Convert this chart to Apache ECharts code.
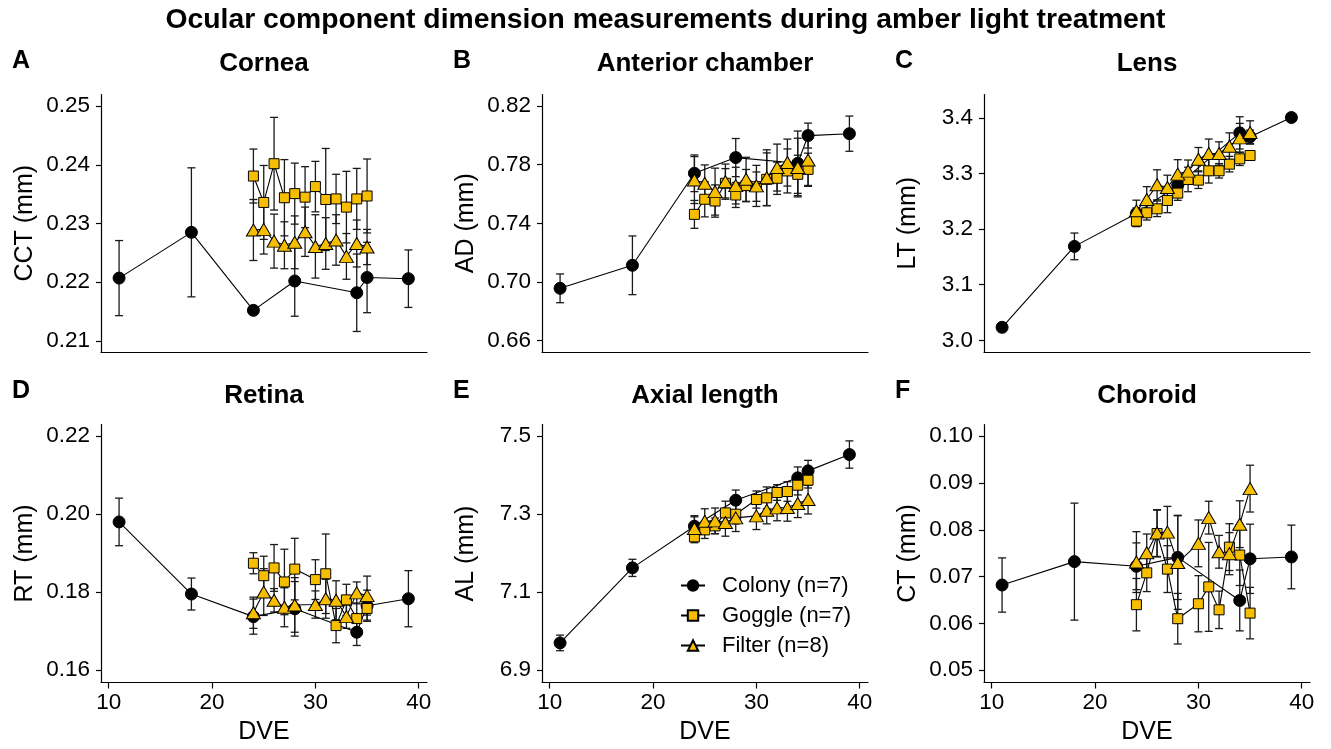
<!DOCTYPE html>
<html>
<head>
<meta charset="utf-8">
<script src="https://cdn.jsdelivr.net/npm/echarts@6/dist/echarts.min.js"></script>
<style>
  html, body { margin: 0; padding: 0; background: #fff; }
  #chart { width: 1331px; height: 749px; }
</style>
</head>
<body>
<div id="chart"></div>
<script>
// days
const colonyDays = [11, 18, 24, 28, 34, 35, 39];
const topDays = [24, 25, 26, 27, 28, 29, 30, 31, 32, 33, 34, 35];
const bottomDays = [24, 25, 26, 27, 28, 30, 31, 32, 33, 34, 35];
const xTicks = [10, 20, 30, 40];

// A cornea
const corneaColony = [0.2207, 0.2285, 0.2152, 0.2202, 0.2182, 0.2208, 0.2206];
const corneaColonySe = [0.0064, 0.011, 0, 0.006, 0.0066, 0.006, 0.0049];
const corneaGoggle = [0.2381, 0.2336, 0.2402, 0.2344, 0.2351, 0.2345, 0.2363, 0.2341, 0.2342, 0.2328, 0.2342, 0.2347];
const corneaGoggleSe = [0.0046, 0.0063, 0.0079, 0.0065, 0.0052, 0.0052, 0.0043, 0.0087, 0.0042, 0.0061, 0.0052, 0.0063];
const corneaFilter = [0.2289, 0.2290, 0.2270, 0.2263, 0.2268, 0.2286, 0.2261, 0.2266, 0.2272, 0.2244, 0.2266, 0.2260];
const corneaFilterSe = [0.0052, 0.0042, 0.0046, 0.0040, 0.0045, 0.0042, 0.0054, 0.0044, 0.0043, 0.0039, 0.0040, 0.0030];
const corneaTicks = [0.21, 0.22, 0.23, 0.24, 0.25];

// B anterior chamber
const adColony = [0.6957, 0.7114, 0.7741, 0.7848, 0.7809, 0.7998, 0.8011];
const adColonySe = [0.0098, 0.020, 0.0125, 0.013, 0.022, 0.0085, 0.012];
const adGoggle = [0.7461, 0.7564, 0.7552, 0.7673, 0.7593, 0.7657, 0.7650, 0.7700, 0.7707, 0.7757, 0.7734, 0.7768];
const adGoggleSe = [0.0095, 0.012, 0.011, 0.010, 0.0085, 0.011, 0.010, 0.018, 0.011, 0.015, 0.013, 0.011];
const adFilter = [0.7695, 0.7673, 0.7616, 0.7684, 0.7657, 0.7700, 0.7655, 0.7711, 0.7780, 0.7814, 0.7780, 0.7832];
const adFilterSe = [0.016, 0.0125, 0.016, 0.012, 0.0125, 0.015, 0.014, 0.019, 0.016, 0.016, 0.02, 0.018];
const adTicks = [0.66, 0.70, 0.74, 0.78, 0.82];

// C lens
const ltColony = [3.0234, 3.1689, 3.228, 3.279, 3.373, 3.366, 3.4006];
const ltColonySe = [0.008, 0.024, 0.01, 0.012, 0.029, 0.012, 0.007];
const ltGoggle = [3.2144, 3.2293, 3.2365, 3.2515, 3.2647, 3.2892, 3.288, 3.3048, 3.3048, 3.3168, 3.3263, 3.3323];
const ltGoggleSe = [0.01, 0.013, 0.014, 0.022, 0.013, 0.022, 0.015, 0.022, 0.013, 0.014, 0.012, 0.006];
const ltFilter = [3.233, 3.2533, 3.2796, 3.2749, 3.2988, 3.3042, 3.3257, 3.3359, 3.3359, 3.349, 3.364, 3.3737];
const ltFilterSe = [0.019, 0.023, 0.027, 0.022, 0.026, 0.02, 0.021, 0.026, 0.021, 0.024, 0.026, 0.021];
const ltTicks = [3.0, 3.1, 3.2, 3.3, 3.4];

// D retina
const rtColony = [0.1980, 0.1795, 0.1737, 0.1757, 0.1697, 0.1765, 0.1783];
const rtColonySe = [0.0061, 0.0041, 0.0045, 0.007, 0.0034, 0.004, 0.0072];
const rtGoggle = [0.1874, 0.1842, 0.1862, 0.1826, 0.1859, 0.1832, 0.1847, 0.1714, 0.1780, 0.1732, 0.1758];
const rtGoggleSe = [0.0027, 0.005, 0.006, 0.0084, 0.0079, 0.0051, 0.0102, 0.0044, 0.004, 0.004, 0.003];
const rtFilter = [0.1747, 0.1800, 0.1779, 0.1761, 0.1767, 0.1768, 0.1783, 0.1779, 0.1737, 0.1798, 0.1791];
const rtFilterSe = [0.004, 0.006, 0.003, 0.005, 0.007, 0.0035, 0.005, 0.005, 0.003, 0.0028, 0.005];
const rtTicks = [0.16, 0.18, 0.20, 0.22];

// E axial length
const alColony = [6.970, 7.1624, 7.2692, 7.3359, 7.3932, 7.4111, 7.4530];
const alColonySe = [0.02, 0.022, 0.027, 0.026, 0.028, 0.027, 0.035];
const alGoggle = [7.2419, 7.2598, 7.2701, 7.3034, 7.300, 7.3376, 7.3419, 7.3556, 7.3581, 7.3744, 7.3872];
const alGoggleSe = [0.015, 0.022, 0.02, 0.03, 0.025, 0.022, 0.028, 0.02, 0.025, 0.025, 0.02];
const alFilter = [7.2632, 7.282, 7.2829, 7.2786, 7.2906, 7.2957, 7.3103, 7.3162, 7.3171, 7.3274, 7.3376];
const alFilterSe = [0.03, 0.032, 0.033, 0.035, 0.035, 0.035, 0.035, 0.033, 0.035, 0.036, 0.037];
const alTicks = [6.9, 7.1, 7.3, 7.5];

// F choroid
const ctColony = [0.0682, 0.0732, 0.0722, 0.0741, 0.0649, 0.0738, 0.0742];
const ctColonySe = [0.0058, 0.0125, 0.005, 0.009, 0.0065, 0.0074, 0.0068];
const ctGoggle = [0.0640, 0.0708, 0.0792, 0.0716, 0.0610, 0.0642, 0.0678, 0.0629, 0.0763, 0.0746, 0.0622];
const ctGoggleSe = [0.0056, 0.004, 0.005, 0.005, 0.0054, 0.006, 0.0095, 0.004, 0.005, 0.0065, 0.0055];
const ctFilter = [0.0731, 0.0751, 0.0793, 0.0795, 0.0730, 0.0771, 0.0826, 0.0753, 0.0749, 0.0812, 0.0888];
const ctFilterSe = [0.0065, 0.004, 0.005, 0.0055, 0.01, 0.005, 0.0035, 0.0035, 0.0045, 0.005, 0.005];
const ctTicks = [0.05, 0.06, 0.07, 0.08, 0.09, 0.10];

const groupNames = ['Colony (n=7)', 'Goggle (n=7)', 'Filter (n=8)'];

const FONT = "'Liberation Sans', Arial, Helvetica, sans-serif";
const AMBER = '#F7BE00';

let panels = [
    { letter: 'A', title: 'Cornea', yName: 'CCT (mm)', left: 101, top: 94.5, height: 257.5, min: 0.2081, max: 0.2520, ticks: corneaTicks, dec: 2, days: topDays,
      colony: corneaColony, colonySe: corneaColonySe, goggle: corneaGoggle, goggleSe: corneaGoggleSe, filter: corneaFilter, filterSe: corneaFilterSe },
    { letter: 'B', title: 'Anterior chamber', yName: 'AD (mm)', left: 542, top: 94.5, height: 257.5, min: 0.6523, max: 0.8278, ticks: adTicks, dec: 2, days: topDays,
      colony: adColony, colonySe: adColonySe, goggle: adGoggle, goggleSe: adGoggleSe, filter: adFilter, filterSe: adFilterSe },
    { letter: 'C', title: 'Lens', yName: 'LT (mm)', left: 984, top: 94.5, height: 257.5, min: 2.979, max: 3.442, ticks: ltTicks, dec: 1, days: topDays,
      colony: ltColony, colonySe: ltColonySe, goggle: ltGoggle, goggleSe: ltGoggleSe, filter: ltFilter, filterSe: ltFilterSe },
    { letter: 'D', title: 'Retina', yName: 'RT (mm)', left: 101, top: 424.5, height: 258, min: 0.1568, max: 0.2230, ticks: rtTicks, dec: 2, days: bottomDays, bottom: true,
      colony: rtColony, colonySe: rtColonySe, goggle: rtGoggle, goggleSe: rtGoggleSe, filter: rtFilter, filterSe: rtFilterSe },
    { letter: 'E', title: 'Axial length', yName: 'AL (mm)', left: 542, top: 424.5, height: 258, min: 6.8685, max: 7.530, ticks: alTicks, dec: 1, days: bottomDays, bottom: true,
      colony: alColony, colonySe: alColonySe, goggle: alGoggle, goggleSe: alGoggleSe, filter: alFilter, filterSe: alFilterSe },
    { letter: 'F', title: 'Choroid', yName: 'CT (mm)', left: 984, top: 424.5, height: 258, min: 0.04737, max: 0.1025, ticks: ctTicks, dec: 2, days: bottomDays, bottom: true,
      colony: ctColony, colonySe: ctColonySe, goggle: ctGoggle, goggleSe: ctGoggleSe, filter: ctFilter, filterSe: ctFilterSe }
];
const panelWidth = 326;

function renderErr(params, api) {
    let x = api.value(0);
    let lo = api.coord([x, api.value(1)]);
    let hi = api.coord([x, api.value(2)]);
    let w = 4;
    let st = { stroke: '#1a1a1a', lineWidth: 1.3 };
    return {
        type: 'group',
        children: [
            { type: 'line', shape: { x1: hi[0], y1: hi[1], x2: lo[0], y2: lo[1] }, style: st },
            { type: 'line', shape: { x1: hi[0] - w, y1: hi[1], x2: hi[0] + w, y2: hi[1] }, style: st },
            { type: 'line', shape: { x1: lo[0] - w, y1: lo[1], x2: lo[0] + w, y2: lo[1] }, style: st }
        ]
    };
}

let grids = [], xAxes = [], yAxes = [], series = [];
let titles = [{
    text: 'Ocular component dimension measurements during amber light treatment',
    left: 'center', top: 6, padding: 0,
    textStyle: { fontFamily: FONT, fontSize: 28.3, fontWeight: 'bold', color: '#000' }
}];

panels.forEach((p, i) => {
    grids.push({ left: p.left, top: p.top, width: panelWidth, height: p.height });
    xAxes.push({
        type: 'value', gridIndex: i, min: 9.25, max: 40.8,
        axisLine: { show: true, onZero: false, lineStyle: { color: '#000', width: 1.2 } },
        axisTick: { show: !!p.bottom, length: 6, customValues: xTicks, lineStyle: { color: '#000', width: 1.2 } },
        axisLabel: { show: !!p.bottom, customValues: xTicks, margin: 9, fontFamily: FONT, fontSize: 22.5, color: '#000' },
        splitLine: { show: false },
        name: p.bottom ? 'DVE' : '', nameLocation: 'middle', nameGap: 37,
        nameTextStyle: { fontFamily: FONT, fontSize: 25, color: '#000' }
    });
    yAxes.push({
        type: 'value', gridIndex: i, min: p.min, max: p.max,
        axisLine: { show: true, lineStyle: { color: '#000', width: 1.2 } },
        axisTick: { show: true, length: 5, customValues: p.ticks, lineStyle: { color: '#000', width: 1.2 } },
        axisLabel: { customValues: p.ticks, margin: 11, fontFamily: FONT, fontSize: 22.5, color: '#000',
            formatter: v => Number(v).toFixed(p.dec) },
        splitLine: { show: false },
        name: p.yName, nameLocation: 'middle', nameGap: 63,
        nameTextStyle: { fontFamily: FONT, fontSize: 25, color: '#000' }
    });
    let cx = p.left + panelWidth / 2;
    titles.push({
        text: p.title, left: cx, top: p.bottom ? 383 : 51, textAlign: 'center', padding: 0,
        textStyle: { fontFamily: FONT, fontSize: 26, fontWeight: 'bold', color: '#000' }
    });
    titles.push({
        text: p.letter, left: p.left - 89, top: p.bottom ? 379 : 49, padding: 0,
        textStyle: { fontFamily: FONT, fontSize: 25, fontWeight: 'bold', color: '#000' }
    });

    let groups = [
        { name: groupNames[0], days: colonyDays, m: p.colony, se: p.colonySe, symbol: 'circle', size: 12, color: '#000', z: 3 },
        { name: groupNames[1], days: p.days, m: p.goggle, se: p.goggleSe, symbol: 'rect', size: 10, color: AMBER, z: 4 },
        { name: groupNames[2], days: p.days, m: p.filter, se: p.filterSe, symbol: 'triangle', size: [14, 12], color: AMBER, z: 5 }
    ];
    groups.forEach(g => {
        series.push({
            type: 'custom', xAxisIndex: i, yAxisIndex: i, z: 2, silent: true,
            renderItem: renderErr,
            encode: { x: 0, y: [1, 2] },
            data: g.days.map((d, k) => [d, g.m[k] - g.se[k], g.m[k] + g.se[k]])
        });
        series.push({
            name: g.name, type: 'line', xAxisIndex: i, yAxisIndex: i, z: g.z,
            data: g.days.map((d, k) => [d, g.m[k]]),
            symbol: g.symbol, symbolSize: g.size, showSymbol: true,
            itemStyle: { color: g.color, borderColor: '#000', borderWidth: 1 },
            lineStyle: { color: '#000', width: 1.1 },
            emphasis: { disabled: true }
        });
    });
});

let myChart = echarts.init(document.getElementById('chart'));
myChart.setOption({
    animation: false,
    backgroundColor: '#fff',
    title: titles,
    grid: grids,
    xAxis: xAxes,
    yAxis: yAxes,
    legend: {
        data: groupNames,
        orient: 'vertical',
        left: 675, top: 569,
        itemWidth: 24, itemHeight: 13, itemGap: 7,
        textStyle: { fontFamily: FONT, fontSize: 22, color: '#000', lineHeight: 23, padding: [0, 0, 0, 12] }
    },
    series: series
});
</script>
</body>
</html>
